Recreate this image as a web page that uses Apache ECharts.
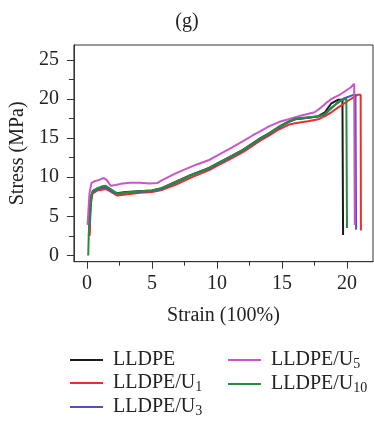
<!DOCTYPE html>
<html>
<head>
<meta charset="utf-8">
<script src="https://cdn.jsdelivr.net/npm/echarts@6/dist/echarts.min.js"></script>
<style>
html,body{margin:0;padding:0;background:#fff;}
#c{width:374px;height:423px;}
</style>
</head>
<body>
<div id="c"></div>
<script>
// ---- data (strain in 100%, stress in MPa) ----
const seriesNames = ['LLDPE', 'LLDPE/U1', 'LLDPE/U3', 'LLDPE/U5', 'LLDPE/U10'];
const xTicks = [0, 5, 10, 15, 20];
const xMinorTicks = [2.5, 7.5, 12.5, 17.5];
const yTicks = [0, 5, 10, 15, 20, 25];
const yMinorTicks = [2.5, 7.5, 12.5, 17.5, 22.5];

const lldpe = [[0.18,2.7],[0.25,6.0],[0.35,7.8],[0.5,8.3],[0.8,8.5],[1.2,8.7],[1.5,8.6],[1.9,8.2],[2.3,7.95],[3,8.1],[4,8.2],[5,8.3],[5.75,8.6],[6.9,9.45],[8,10.3],[9.4,11.2],[10,11.75],[11,12.6],[12,13.5],[13.35,15.0],[14,15.6],[14.75,16.4],[15.5,17.1],[16,17.4],[17,17.6],[17.8,17.8],[18.3,18.3],[18.8,19.45],[19.3,19.9],[19.65,19.9],[19.7,2.6]];
const lldpeU1 = [[0.2,2.5],[0.3,6.5],[0.43,7.9],[0.8,8.3],[1.44,8.5],[1.8,8.2],[2.33,7.65],[3,7.8],[4.1,8.0],[5,8.1],[5.75,8.35],[6.9,9.1],[8,9.95],[9.4,10.9],[10,11.45],[11,12.3],[12,13.2],[13.35,14.7],[14,15.3],[14.75,16.1],[15.5,16.7],[16,16.9],[17,17.15],[17.8,17.4],[18.3,17.8],[18.8,18.3],[19.3,18.9],[19.8,19.45],[20.2,19.9],[20.6,20.3],[20.8,20.55],[21.05,20.55],[21.07,3.2]];
const lldpeU3 = [[0.15,2.5],[0.3,7.0],[0.43,8.1],[0.8,8.45],[1.3,8.7],[1.6,8.55],[2.0,8.1],[2.4,7.9],[3,8.05],[4.1,8.15],[5,8.25],[5.75,8.5],[6.9,9.35],[8,10.2],[9.4,11.1],[10,11.65],[11,12.5],[12,13.4],[13.35,14.9],[14,15.5],[14.75,16.35],[15.5,17.0],[16,17.4],[17,17.6],[17.8,17.75],[18.3,18.0],[18.8,18.8],[19.3,19.6],[19.8,20.1],[20.45,20.5],[20.65,20.55],[20.7,3.3]];
const lldpeU5 = [[0.05,3.9],[0.2,8.0],[0.35,9.25],[0.6,9.5],[0.94,9.65],[1.3,9.9],[1.55,9.6],[1.82,8.9],[2.2,9.0],[2.6,9.15],[3.3,9.3],[4.1,9.3],[4.8,9.2],[5.4,9.25],[5.75,9.6],[6.9,10.55],[8.4,11.6],[9.4,12.2],[10,12.75],[11,13.65],[12,14.6],[12.7,15.3],[13.35,15.9],[14,16.5],[14.75,17.05],[15.5,17.4],[16.5,17.9],[17.5,18.3],[18,18.9],[18.4,19.5],[18.8,20.0],[19.5,20.6],[20.3,21.5],[20.55,21.95],[20.6,3.9]];
const lldpeU10 = [[0.1,0],[0.15,3],[0.3,7.0],[0.43,8.2],[0.8,8.6],[1.2,8.85],[1.44,8.9],[1.8,8.5],[2.33,7.9],[3,8.05],[4.1,8.2],[5,8.3],[5.75,8.6],[6.9,9.45],[8,10.25],[9.4,11.2],[10,11.75],[11,12.6],[12,13.5],[13.35,14.95],[14,15.6],[14.75,16.45],[15.5,17.1],[16,17.5],[17,17.65],[17.8,17.75],[18.3,18.1],[18.8,18.9],[19.45,19.7],[19.95,20.05],[20.0,3.5]];

const seriesData = [lldpe, lldpeU1, lldpeU3, lldpeU5, lldpeU10];
const colors = ['#1a1a1a', '#e8302a', '#5050c0', '#cc55cc', '#2a8a3c'];

// ---- chart ----
const FONT = '"Liberation Serif", "Times New Roman", serif';
const chart = echarts.init(document.getElementById('c'), null, {renderer: 'canvas'});

function legendFmt(name) {
  const m = name.match(/^(.*U)(\d+)$/);
  return m ? '{a|' + m[1] + '}{s|' + m[2] + '}' : '{a|' + name + '}';
}
const legendText = {
  color: '#222',
  fontFamily: FONT,
  rich: {
    a: {fontSize: 20, lineHeight: 22, fontFamily: FONT, color: '#222', padding: [0, 0, 0, 5]},
    s: {fontSize: 14, lineHeight: 12, fontFamily: FONT, color: '#222', verticalAlign: 'bottom'}
  }
};
const axisFont = {fontFamily: FONT, fontSize: 20, color: '#222'};

function legendCfg(names, left) {
  return {
    data: names.map((n) => ({name: n, icon: 'rect'})),
    orient: 'vertical', left: left, top: 350, padding: 0,
    itemWidth: 33, itemHeight: 2, itemGap: 3, formatter: legendFmt, textStyle: legendText,
    selectedMode: false
  };
}

const option = {
  animation: false,
  backgroundColor: '#fff',
  title: {
    text: '(g)', left: 'center', top: 7,
    textStyle: {fontFamily: FONT, fontSize: 20, fontWeight: 'normal', color: '#222'}
  },
  legend: [legendCfg(seriesNames.slice(0, 3), 70), legendCfg(seriesNames.slice(3), 228)],
  grid: {
    left: 70, right: 1, top: 45, bottom: 161.3,
    show: true, borderColor: '#333', borderWidth: 1, backgroundColor: 'transparent'
  },
  xAxis: [
    {
      type: 'value', min: -1, max: 22, position: 'bottom',
      name: 'Strain (100%)', nameLocation: 'middle', nameGap: 44,
      nameTextStyle: {fontFamily: FONT, fontSize: 20, color: '#222'},
      axisLine: {show: true, onZero: false, lineStyle: {color: '#333', width: 1}},
      axisTick: {show: true, inside: false, length: 7, customValues: xTicks, lineStyle: {color: '#333'}},
      axisLabel: Object.assign({margin: 12, customValues: xTicks}, axisFont),
      splitLine: {show: false}
    },
    {
      type: 'value', min: -1, max: 22, position: 'bottom', gridIndex: 0,
      axisLine: {show: false, onZero: false},
      axisTick: {show: true, inside: false, length: 4, customValues: xMinorTicks, lineStyle: {color: '#333'}},
      axisLabel: {show: false},
      splitLine: {show: false}
    }
  ],
  yAxis: [
    {
      type: 'value', min: -0.8, max: 26.9, position: 'left',
      name: 'Stress (MPa)', nameLocation: 'middle', nameGap: 41,
      nameTextStyle: {fontFamily: FONT, fontSize: 20, color: '#222'},
      axisLine: {show: true, onZero: false, lineStyle: {color: '#333', width: 1}},
      axisTick: {show: true, inside: false, length: 7, customValues: yTicks, lineStyle: {color: '#333'}},
      axisLabel: Object.assign({margin: 15, customValues: yTicks}, axisFont),
      splitLine: {show: false}
    },
    {
      type: 'value', min: -0.8, max: 26.9, position: 'left', gridIndex: 0,
      axisLine: {show: false, onZero: false},
      axisTick: {show: true, inside: false, length: 5, customValues: yMinorTicks, lineStyle: {color: '#333'}},
      axisLabel: {show: false},
      splitLine: {show: false}
    }
  ],
  series: seriesNames.map((n, i) => ({
    name: n, type: 'line', data: seriesData[i],
    xAxisIndex: 0, yAxisIndex: 0,
    symbol: 'none', showSymbol: false,
    lineStyle: {color: colors[i], width: 2},
    itemStyle: {color: colors[i]}
  }))
};
chart.setOption(option);
</script>
</body>
</html>
